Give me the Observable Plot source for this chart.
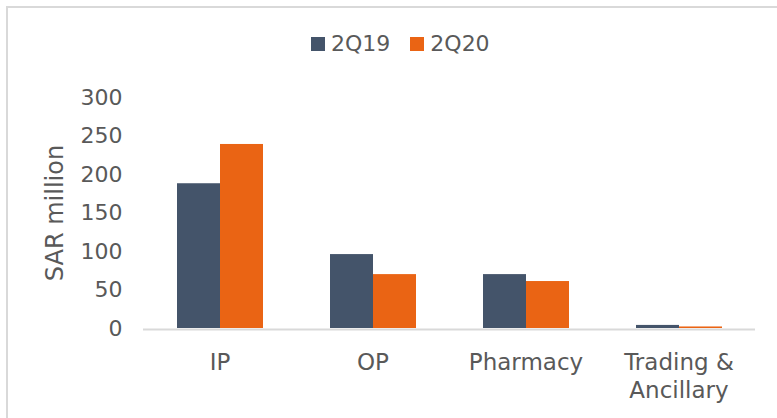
<!DOCTYPE html>
<html>
<head>
<meta charset="utf-8">
<script src="https://cdn.jsdelivr.net/npm/d3@7"></script>
<script src="https://cdn.jsdelivr.net/npm/@observablehq/plot@0.6"></script>
<style>
  html, body { margin: 0; padding: 0; background: #fff; width: 777px; height: 418px; overflow: hidden; }
  #wrap { position: relative; width: 777px; height: 418px; font-family: "DejaVu Sans", sans-serif; color: #595959; }
  #border { position: absolute; left: 6px; top: 6px; width: 1000px; height: 1000px; border-left: 2px solid #d9d9d9; border-top: 2px solid #d9d9d9; }
  #legend { position: absolute; left: 311px; top: 31px; display: flex; align-items: center; font-size: 22px; color: #595959; }
  .item { display: flex; align-items: center; margin-right: 20px; }
  .sw { width: 14px; height: 14px; margin-right: 6px; }
  #chart { position: absolute; left: 0; top: 0; }
</style>
</head>
<body>
<div id="wrap">
  <div id="border"></div>
  <div id="chart"></div>
  <div id="legend"></div>
</div>
<script>
const categories = ["IP", "OP", "Pharmacy", "Trading & Ancillary"];
const categoryLabels = ["IP", "OP", "Pharmacy", "Trading &\nAncillary"];
const series = ["2Q19", "2Q20"];
const values2Q19 = [188, 96, 70, 4];
const values2Q20 = [239, 70, 61, 2];
const colors = ["#44546A", "#EA6414"];
const yTicks = [0, 50, 100, 150, 200, 250, 300];

const data = [];
categories.forEach((c, i) => {
  data.push({category: c, series: series[0], value: values2Q19[i]});
  data.push({category: c, series: series[1], value: values2Q20[i]});
});

const chart = Plot.plot({
  width: 777,
  height: 418,
  marginTop: 97,
  marginBottom: 90,
  marginLeft: 142,
  marginRight: 21,
  style: {fontFamily: "DejaVu Sans, sans-serif", fontSize: "22px", color: "#595959", background: "transparent", overflow: "visible"},
  fx: {domain: categories, padding: 0, label: null, axis: null},
  x: {domain: series, paddingInner: 0, paddingOuter: 0.74, axis: null},
  y: {domain: [0, 300]},
  color: {domain: series, range: colors},
  marks: [
    Plot.axisY({ticks: yTicks, tickSize: 0, tickPadding: 21, fontSize: 22, label: null}),
    Plot.axisY({ticks: [], tickSize: 0, label: "SAR million", labelAnchor: "center", labelArrow: "none", labelOffset: 98, fontSize: 24}),
    Plot.axisFx({anchor: "bottom", tickSize: 0, tickPadding: 22, fontSize: 23, lineHeight: 1.22, label: null,
      tickFormat: d => categoryLabels[categories.indexOf(d)]}),
    Plot.barY(data, {fx: "category", x: "series", y: "value", fill: "series"}),
    Plot.ruleY([0], {stroke: "#d9d9d9", strokeWidth: 2, dy: 1})
  ]
});
document.getElementById("chart").appendChild(chart);

const legend = document.getElementById("legend");
series.forEach((s, i) => {
  const item = document.createElement("div");
  item.className = "item";
  const sw = document.createElement("div");
  sw.className = "sw";
  sw.style.background = colors[i];
  const t = document.createElement("span");
  t.textContent = s;
  item.appendChild(sw);
  item.appendChild(t);
  legend.appendChild(item);
});
</script>
</body>
</html>
